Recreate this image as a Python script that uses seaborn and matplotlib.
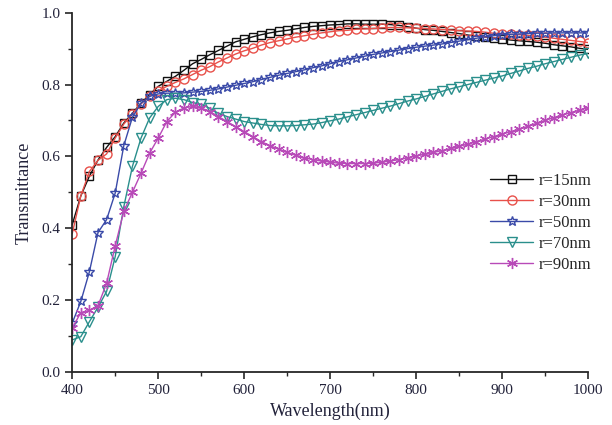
import matplotlib
matplotlib.use("Agg")
import matplotlib.pyplot as plt
import numpy as np
import pandas as pd
import seaborn as sns

# wavelength grid (nm), one marker every 10 nm
wavelength = list(range(400, 1001, 10))

t_r15 = [0.41, 0.49, 0.545, 0.59, 0.625, 0.655, 0.693, 0.72, 0.748, 0.772,
         0.795, 0.809, 0.823, 0.840, 0.858, 0.870, 0.883, 0.895, 0.907, 0.919,
         0.926, 0.933, 0.939, 0.944, 0.948, 0.951, 0.955, 0.959, 0.962, 0.964,
         0.966, 0.967, 0.969, 0.969, 0.968, 0.968, 0.968, 0.967, 0.965, 0.961,
         0.957, 0.953, 0.951, 0.948, 0.945, 0.942, 0.938, 0.935, 0.933, 0.930,
         0.927, 0.924, 0.922, 0.920, 0.918, 0.915, 0.911, 0.908, 0.905, 0.901,
         0.898]
t_r30 = [0.385, 0.49, 0.558, 0.589, 0.607, 0.651, 0.690, 0.718, 0.746, 0.768,
         0.783, 0.795, 0.806, 0.816, 0.828, 0.840, 0.850, 0.863, 0.874, 0.885,
         0.894, 0.901, 0.910, 0.917, 0.922, 0.927, 0.932, 0.936, 0.940, 0.944,
         0.947, 0.950, 0.951, 0.954, 0.955, 0.956, 0.958, 0.959, 0.959, 0.958,
         0.957, 0.956, 0.955, 0.953, 0.952, 0.950, 0.949, 0.948, 0.946, 0.943,
         0.942, 0.940, 0.939, 0.937, 0.934, 0.932, 0.929, 0.926, 0.923, 0.920,
         0.917]
t_r50 = [0.136, 0.196, 0.279, 0.388, 0.424, 0.498, 0.630, 0.709, 0.748, 0.767,
         0.774, 0.776, 0.776, 0.777, 0.779, 0.781, 0.784, 0.788, 0.793, 0.798,
         0.803, 0.808, 0.814, 0.820, 0.826, 0.831, 0.836, 0.841, 0.847, 0.852,
         0.858, 0.864, 0.869, 0.874, 0.879, 0.884, 0.888, 0.892, 0.896, 0.900,
         0.904, 0.907, 0.910, 0.913, 0.917, 0.921, 0.925, 0.929, 0.933, 0.936,
         0.939, 0.940, 0.941, 0.942, 0.943, 0.943, 0.944, 0.944, 0.944, 0.944,
         0.944]
t_r70 = [0.089, 0.098, 0.140, 0.180, 0.224, 0.321, 0.460, 0.572, 0.651, 0.707,
         0.739, 0.758, 0.762, 0.758, 0.750, 0.745, 0.734, 0.720, 0.711, 0.704,
         0.697, 0.693, 0.689, 0.686, 0.685, 0.685, 0.686, 0.688, 0.690, 0.694,
         0.699, 0.704, 0.710, 0.716, 0.722, 0.728, 0.734, 0.740, 0.747, 0.754,
         0.760, 0.767, 0.774, 0.781, 0.788, 0.794, 0.800, 0.806, 0.812, 0.818,
         0.824, 0.831, 0.838, 0.845, 0.851, 0.858, 0.864, 0.870, 0.876, 0.882,
         0.887]
t_r90 = [0.122, 0.165, 0.171, 0.184, 0.247, 0.351, 0.447, 0.500, 0.553, 0.609,
         0.651, 0.697, 0.723, 0.735, 0.739, 0.735, 0.725, 0.711, 0.697, 0.683,
         0.669, 0.655, 0.641, 0.630, 0.620, 0.611, 0.603, 0.596, 0.591, 0.587,
         0.584, 0.581, 0.580, 0.580, 0.580, 0.581, 0.584, 0.587, 0.591, 0.596,
         0.601, 0.606, 0.611, 0.616, 0.622, 0.628, 0.634, 0.641, 0.648, 0.655,
         0.662, 0.669, 0.676, 0.684, 0.692, 0.700, 0.708, 0.715, 0.722, 0.729,
         0.736]

labels = ["r=15nm", "r=30nm", "r=50nm", "r=70nm", "r=90nm"]
series = [t_r15, t_r30, t_r50, t_r70, t_r90]
colors = ["#111111", "#E8504A", "#3A4AA8", "#2A8F8C", "#B84AB8"]
markers = ["s", "o", "*", "v", (6, 2, 0)]
msizes = [6, 6.5, 7.5, 7, 8]

df = pd.DataFrame({"wavelength": wavelength})
for lab, vals in zip(labels, series):
    df[lab] = vals

sns.set_style("ticks")
plt.rcParams["font.family"] = ["Liberation Serif", "DejaVu Serif"]
txt = "#22223a"

fig = plt.figure(figsize=(6.12, 4.25), dpi=100)
ax = fig.add_axes([0.118, 0.125, 0.843, 0.845])

for lab, c, m, ms in zip(labels, colors, markers, msizes):
    sns.lineplot(data=df, x="wavelength", y=lab, ax=ax, color=c, marker=m,
                 markersize=ms, mfc="none", mec=c, mew=1.0, linewidth=1.0,
                 label=lab)

ax.set_xlim(400, 1000)
ax.set_ylim(0.0, 1.0)
ax.set_xticks(range(400, 1001, 100))
ax.set_xticks(range(450, 1000, 100), minor=True)
ax.set_yticks(np.arange(0, 1.01, 0.2))
ax.set_yticks(np.arange(0.1, 1.0, 0.2), minor=True)
ax.yaxis.set_major_formatter(matplotlib.ticker.FormatStrFormatter("%.1f"))
ax.tick_params(which="major", direction="out", length=5, width=1.2,
               labelsize=11, labelcolor=txt)
ax.tick_params(which="minor", direction="out", length=3, width=1.0)
for s in ["left", "bottom"]:
    ax.spines[s].set_linewidth(1.3)
sns.despine(ax=ax)

ax.set_xlabel("Wavelength(nm)", fontsize=13, color=txt, labelpad=4)
ax.set_ylabel("Transmittance", fontsize=13, color=txt, labelpad=6)

ax.legend(loc="center right", bbox_to_anchor=(1.035, 0.415), frameon=False,
          fontsize=12, handlelength=2.6, labelspacing=0.3, handletextpad=0.3)

fig.savefig("out.png", dpi=100)
